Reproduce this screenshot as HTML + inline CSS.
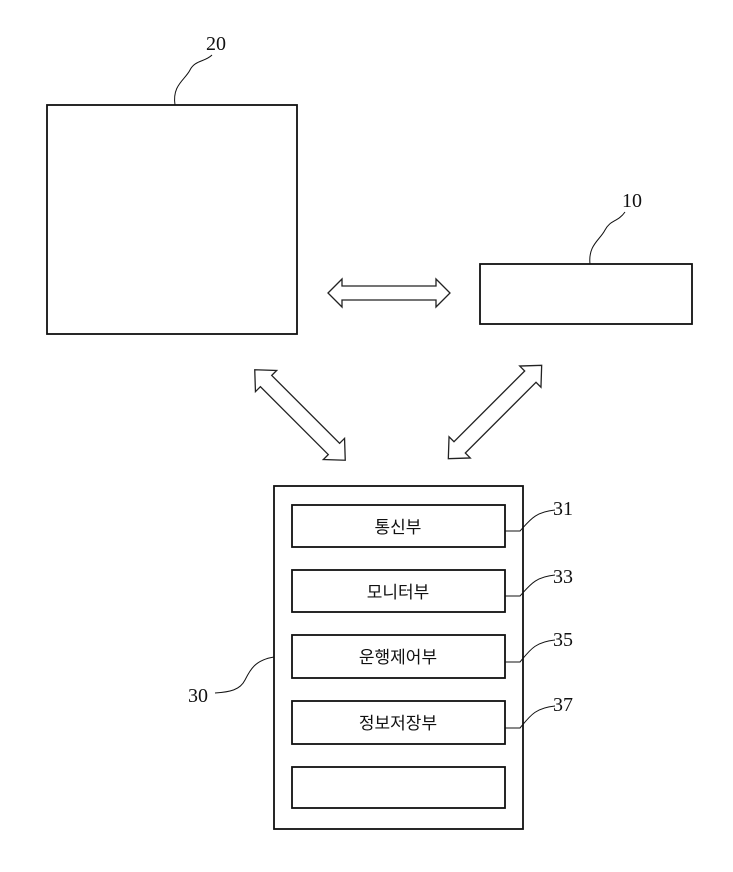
<!DOCTYPE html>
<html><head><meta charset="utf-8"><style>
body{margin:0;background:#fff}
svg{display:block}
text{font-family:"Liberation Serif",serif;font-size:20px;fill:#111}
.k{font-family:"Liberation Sans","Noto Sans CJK KR",sans-serif;font-size:17px;fill:#111}
</style></head><body>
<svg width="733" height="872" viewBox="0 0 733 872">
<g fill="none" stroke="#111" stroke-width="1.8">
<rect x="47" y="105" width="250" height="229"/>
<rect x="480" y="264" width="212" height="60"/>
<rect x="274" y="486" width="249" height="343"/>
<rect x="292" y="505" width="213" height="42"/>
<rect x="292" y="570" width="213" height="42"/>
<rect x="292" y="635" width="213" height="43"/>
<rect x="292" y="701" width="213" height="43"/>
<rect x="292" y="767" width="213" height="41"/>
<path d="M175,105 C172,85 185,80 190,70 C195,60 205,62 212,55" stroke-width="1"/>
<path d="M590,264 C588,245 600,240 605,230 C610,220 618,222 625,212" stroke-width="1"/>
<path d="M505,531 L520,531 C530,520 535,512 555,510" stroke-width="1"/>
<path d="M505,596 L520,596 C530,585 535,577 555,575" stroke-width="1"/>
<path d="M505,662 L520,662 C530,650 535,642 555,640" stroke-width="1"/>
<path d="M505,728 L520,728 C530,716 535,708 555,706" stroke-width="1"/>
<path d="M274,657 C255,660 250,670 245,680 C240,690 230,692 215,693" stroke-width="1"/>
</g>
<g fill="#fff" stroke="#222" stroke-width="1.3">
<polygon points="328,293 342,279 342,286 436,286 436,279 450,293 436,307 436,300 342,300 342,307"/>
<g transform="translate(300,415) rotate(45)">
<polygon points="-64,0 -48,-15 -48,-8 48,-8 48,-15 64,0 48,15 48,8 -48,8 -48,15"/>
</g>
<g transform="translate(495,412) rotate(-45)">
<polygon points="-66,0 -50,-15 -50,-8 50,-8 50,-15 66,0 50,15 50,8 -50,8 -50,15"/>
</g>
</g>
<text x="206" y="50">20</text>
<text x="622" y="207">10</text>
<text x="553" y="515">31</text>
<text x="553" y="583">33</text>
<text x="553" y="646">35</text>
<text x="553" y="711">37</text>
<text x="188" y="702">30</text>
<text class="k" x="398" y="533" text-anchor="middle">통신부</text>
<text class="k" x="398" y="598" text-anchor="middle">모니터부</text>
<text class="k" x="398" y="663" text-anchor="middle">운행제어부</text>
<text class="k" x="398" y="729" text-anchor="middle">정보저장부</text>
</svg>
</body></html>
